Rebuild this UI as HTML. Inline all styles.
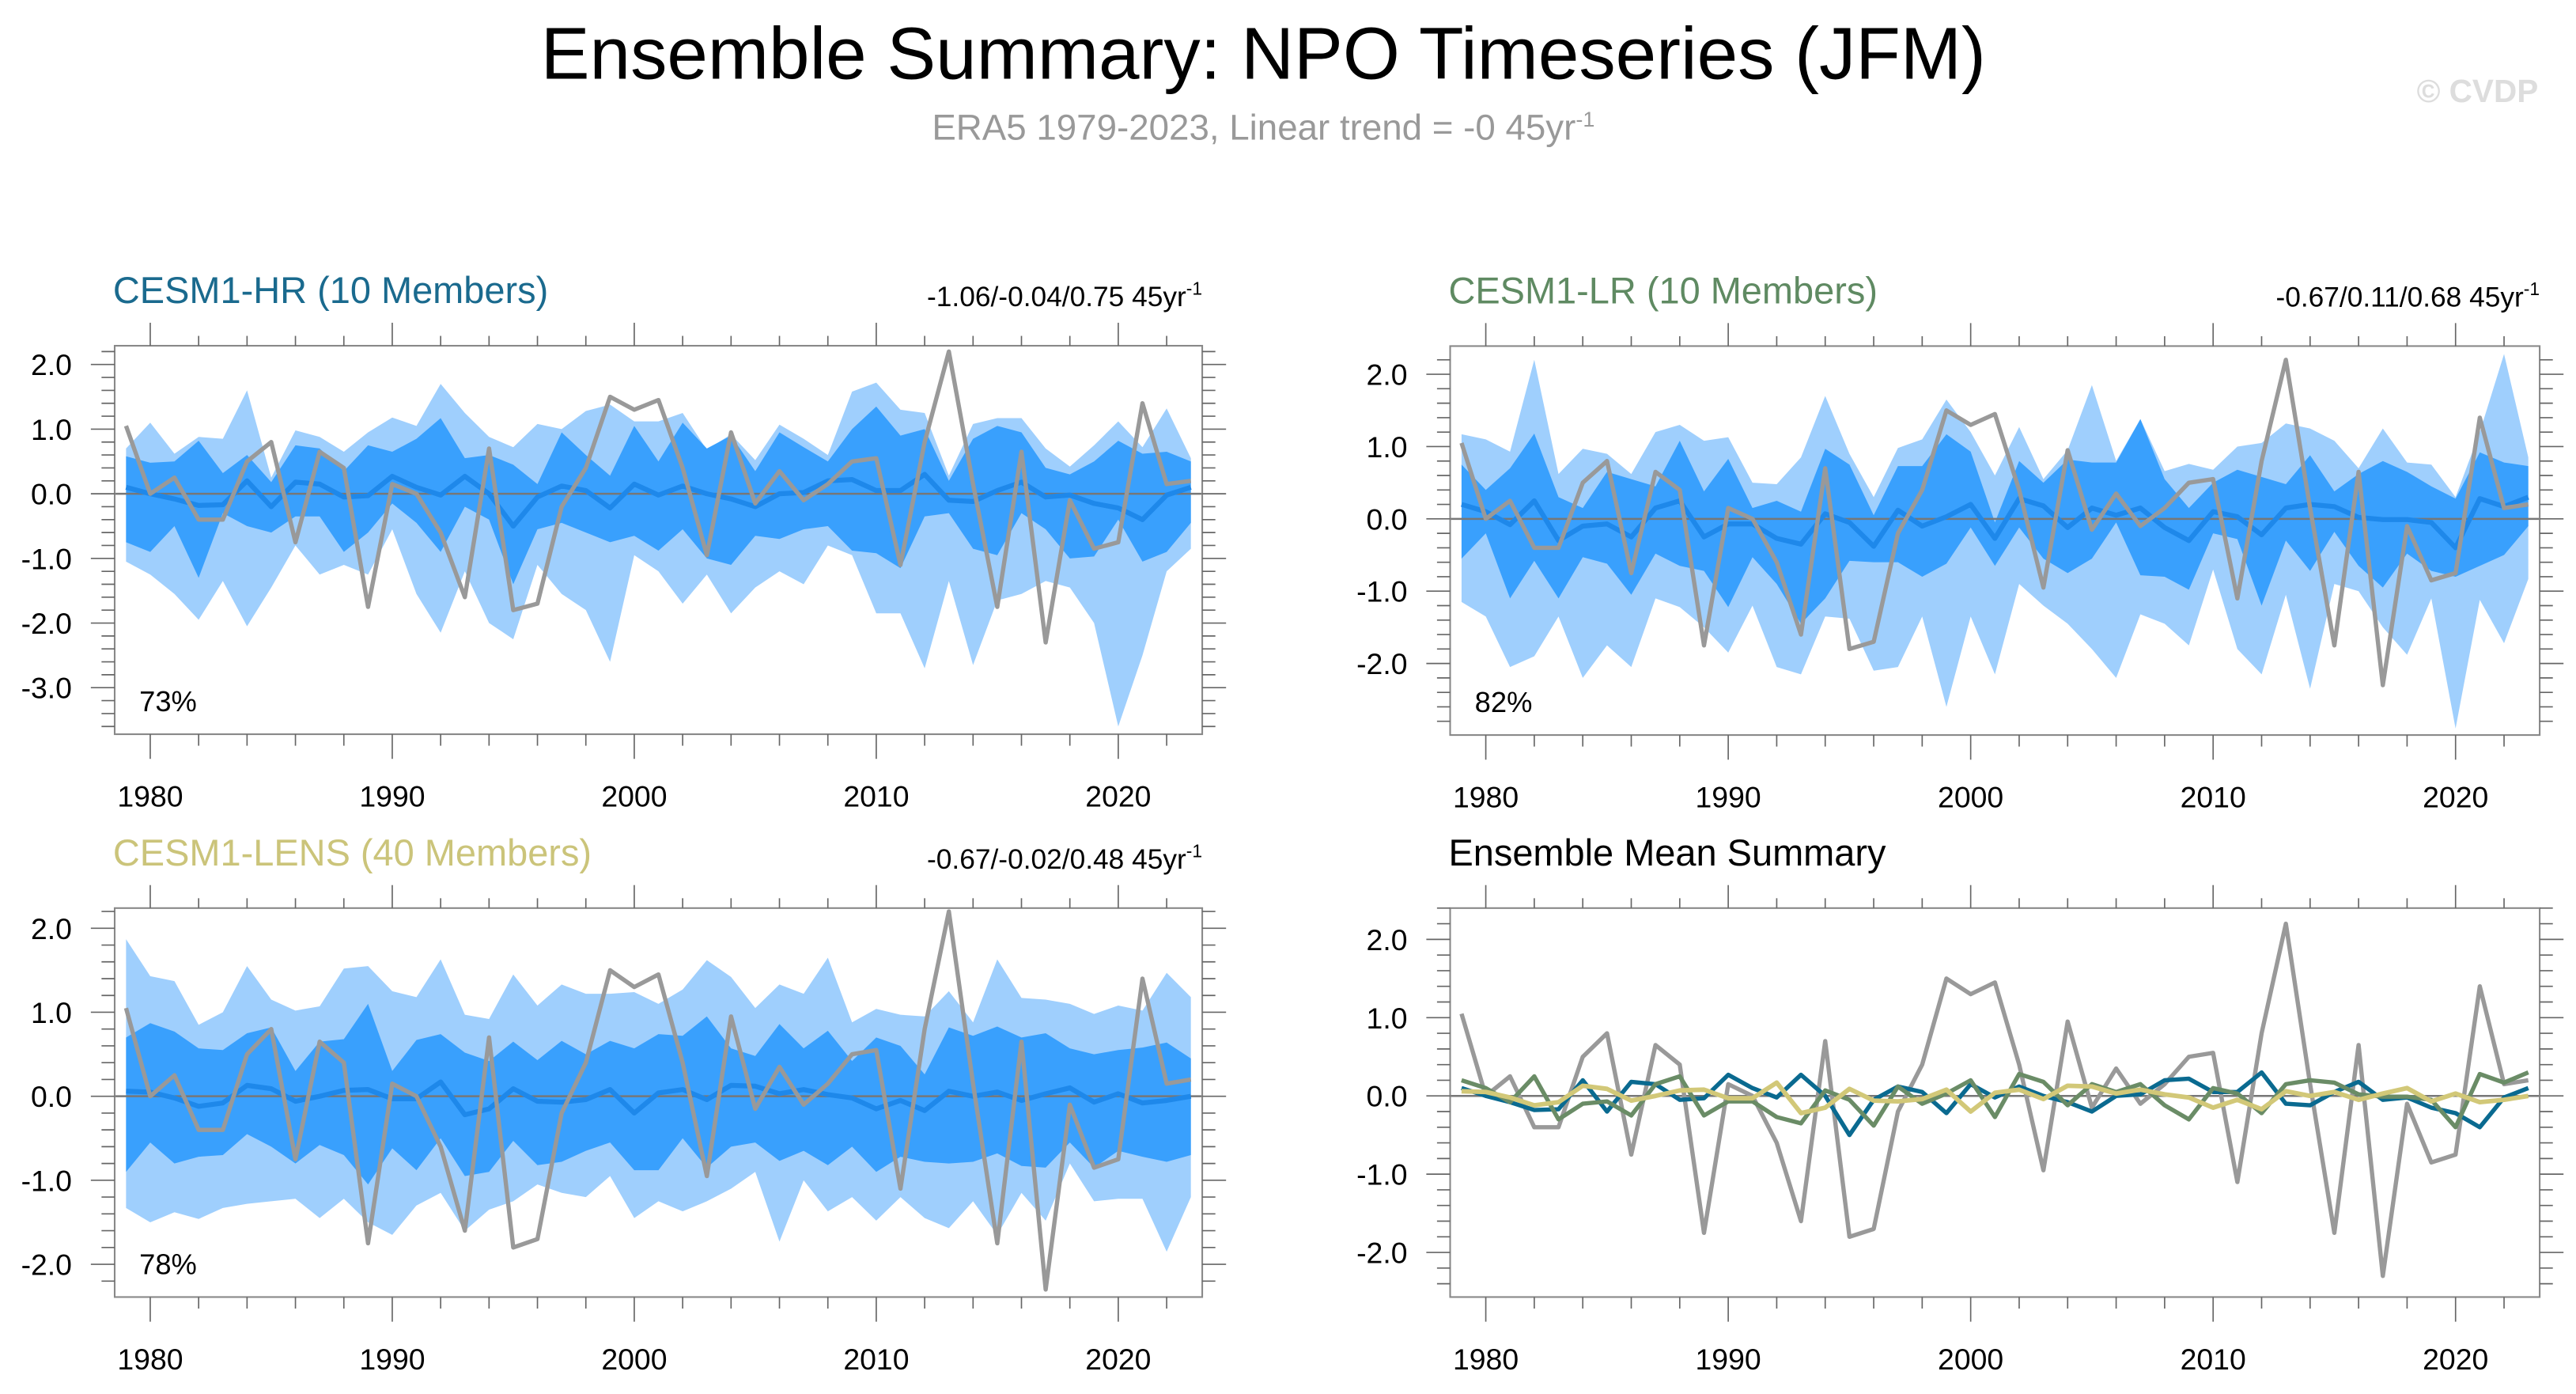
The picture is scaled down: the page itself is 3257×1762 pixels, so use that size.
<!DOCTYPE html>
<html><head><meta charset="utf-8"><style>
html,body{margin:0;padding:0;background:#fff;}
svg{display:block;}
text{font-family:"Liberation Sans",Arial,sans-serif;}
</style></head><body>
<svg id="chart" width="3257" height="1762" viewBox="0 0 1568 848.3" preserveAspectRatio="none" xmlns="http://www.w3.org/2000/svg">
<text x="769" y="48" font-size="44.6" text-anchor="middle" fill="#000">Ensemble Summary: NPO Timeseries (JFM)</text>
<text x="769" y="85" font-size="22" text-anchor="middle" fill="#999">ERA5 1979-2023, Linear trend = -0 45yr<tspan dy="-8" font-size="13">-1</tspan></text>
<text x="1545" y="62" font-size="19.5" font-weight="bold" text-anchor="end" fill="#ddd">© CVDP</text>
<g id="panels"></g>
</svg>
<script>
const years = [];
for (let y = 1979; y <= 2023; y++) years.push(y);
const era5 = [1.05,0.0,0.25,-0.4,-0.4,0.5,0.8,-0.75,0.65,0.4,-1.75,0.15,0.0,-0.6,-1.6,0.7,-1.8,-1.7,-0.2,0.4,1.5,1.3,1.45,0.4,-0.95,0.95,-0.15,0.35,-0.1,0.15,0.5,0.55,-1.1,0.8,2.2,0.15,-1.75,0.65,-2.3,-0.1,-0.85,-0.75,1.4,0.15,0.2];

const hrMax = [0.7,1.1,0.62,0.88,0.85,1.6,0.25,0.98,0.88,0.65,0.95,1.18,1.05,1.7,1.25,0.88,0.72,1.08,1.0,1.28,1.38,1.12,1.12,1.25,0.68,0.92,0.52,1.07,0.85,0.6,1.58,1.72,1.3,1.25,0.28,1.08,1.17,1.17,0.7,0.42,0.75,1.12,0.72,1.32,0.55];
const hrHi = [0.58,0.48,0.5,0.82,0.32,0.6,0.18,0.75,0.7,0.35,0.75,0.65,0.85,1.17,0.55,0.6,0.45,0.15,0.95,0.6,0.28,1.05,0.5,1.1,0.7,0.9,0.35,0.95,0.72,0.5,1.0,1.35,0.9,1.0,0.2,0.85,1.05,0.95,0.4,0.3,0.5,0.82,0.62,0.65,0.5];
const hrLo = [-0.75,-0.9,-0.5,-1.3,-0.3,-0.5,-0.6,-0.35,-0.35,-0.9,-0.6,-0.15,-0.45,-0.9,-0.2,-0.4,-1.4,-0.55,-0.45,-0.6,-0.75,-0.65,-0.88,-0.55,-1.0,-1.1,-0.65,-0.7,-0.55,-0.5,-0.88,-0.92,-1.15,-0.35,-0.3,-0.85,-0.95,-0.3,-0.55,-1.0,-0.97,-0.4,-1.05,-0.9,-0.45];
const hrMin = [-1.05,-1.25,-1.55,-1.95,-1.35,-2.05,-1.45,-0.8,-1.25,-1.1,-1.25,-0.55,-1.55,-2.15,-1.2,-2.0,-2.25,-1.1,-1.55,-1.8,-2.6,-0.95,-1.2,-1.7,-1.25,-1.85,-1.45,-1.2,-1.4,-0.8,-0.95,-1.85,-1.85,-2.7,-1.35,-2.65,-1.65,-1.55,-1.35,-1.45,-2.0,-3.6,-2.5,-1.2,-0.85];
const hrMean = [0.1,0.0,-0.08,-0.18,-0.17,0.2,-0.2,0.18,0.15,-0.05,-0.03,0.27,0.1,-0.02,0.27,0.0,-0.5,-0.05,0.12,0.05,-0.22,0.15,-0.02,0.12,0.0,-0.08,-0.2,0.0,0.02,0.2,0.22,0.05,0.05,0.3,-0.1,-0.12,0.05,0.18,-0.05,-0.02,-0.15,-0.22,-0.4,-0.02,0.1];

const lrMax = [1.17,1.1,0.93,2.2,0.62,0.97,0.9,0.62,1.2,1.3,1.08,1.13,0.5,0.48,0.85,1.7,0.9,0.3,0.98,1.1,1.65,1.2,0.6,1.27,0.55,0.95,1.85,0.8,1.38,0.66,0.76,0.68,1.0,1.05,1.32,1.25,1.08,0.7,1.25,0.78,0.75,0.3,1.2,2.28,0.85];
const lrHi = [0.75,0.4,0.7,1.18,0.3,0.15,0.65,0.55,0.45,1.08,0.38,0.83,0.15,0.25,0.1,0.97,0.75,0.05,0.73,0.73,1.17,0.93,-0.05,0.8,0.5,0.82,0.78,0.78,1.38,0.55,0.15,0.5,0.68,0.58,0.48,0.88,0.38,0.62,0.8,0.65,0.45,0.28,0.92,0.78,0.73];
const lrLo = [-0.55,-0.2,-1.1,-0.58,-1.1,-0.53,-0.62,-1.05,-0.48,-0.65,-0.72,-1.22,-0.53,-0.9,-1.45,-1.1,-0.58,-0.6,-0.6,-0.8,-0.62,-0.12,-0.65,-0.12,-0.55,-0.75,-0.55,-0.05,-0.78,-0.8,-0.98,-0.2,-0.28,-1.2,-0.3,-0.72,-0.18,-0.65,-0.95,-0.48,-0.72,-0.8,-0.65,-0.5,-0.1];
const lrMin = [-1.15,-1.35,-2.05,-1.9,-1.35,-2.2,-1.75,-2.05,-1.1,-1.22,-1.5,-1.85,-1.2,-2.05,-2.15,-1.35,-1.38,-2.1,-2.05,-1.35,-2.6,-1.35,-2.15,-0.9,-1.2,-1.45,-1.8,-2.2,-1.32,-1.45,-1.75,-0.7,-1.8,-2.15,-1.05,-2.35,-0.9,-1.0,-1.5,-1.88,-1.1,-2.9,-1.12,-1.72,-0.83];
const lrMean = [0.2,0.1,-0.08,0.25,-0.3,-0.1,-0.07,-0.25,0.15,0.25,-0.25,-0.07,-0.07,-0.27,-0.35,0.07,-0.05,-0.38,0.12,-0.1,0.03,0.2,-0.27,0.28,0.18,-0.12,0.15,0.05,0.15,-0.12,-0.3,0.1,0.03,-0.22,0.15,0.2,0.17,0.02,-0.01,-0.01,-0.05,-0.4,0.28,0.17,0.3];

const lensMax = [1.87,1.43,1.37,0.85,1.0,1.55,1.15,1.02,1.07,1.52,1.55,1.25,1.18,1.63,0.97,0.92,1.45,1.08,1.33,1.22,1.22,1.24,1.1,1.27,1.62,1.42,1.05,1.33,1.22,1.65,0.88,1.04,0.97,0.95,1.25,0.88,1.63,1.17,1.15,1.1,0.98,1.08,1.02,1.47,1.18];
const lensHi = [0.7,0.87,0.77,0.57,0.55,0.75,0.82,0.3,0.65,0.68,1.1,0.3,0.67,0.74,0.52,0.42,0.65,0.43,0.66,0.5,0.66,0.57,0.74,0.72,0.95,0.57,0.48,0.86,0.57,0.78,0.42,0.7,0.6,0.26,0.82,0.72,0.83,0.7,0.75,0.57,0.5,0.55,0.58,0.64,0.45];
const lensLo = [-0.9,-0.55,-0.8,-0.72,-0.7,-0.45,-0.6,-0.8,-0.58,-0.7,-1.05,-0.62,-0.88,-0.5,-0.95,-0.9,-0.53,-0.82,-0.78,-0.65,-0.55,-0.88,-0.88,-0.5,-0.85,-0.6,-0.55,-0.77,-0.65,-0.82,-0.6,-0.9,-0.72,-0.78,-0.8,-0.78,-0.68,-0.83,-0.85,-0.55,-0.85,-0.65,-0.72,-0.78,-0.7];
const lensMin = [-1.33,-1.5,-1.38,-1.46,-1.33,-1.28,-1.25,-1.22,-1.45,-1.22,-1.5,-1.65,-1.3,-1.15,-1.6,-1.35,-1.25,-1.05,-1.15,-1.2,-0.95,-1.45,-1.25,-1.37,-1.25,-1.1,-0.9,-1.73,-1.0,-1.37,-1.2,-1.48,-1.2,-1.45,-1.57,-1.25,-1.65,-1.15,-1.48,-0.8,-1.25,-1.22,-1.22,-1.85,-1.2];
const lensMean = [0.06,0.05,-0.02,-0.12,-0.08,0.13,0.09,-0.06,0.0,0.07,0.08,-0.03,-0.03,0.17,-0.22,-0.15,0.09,-0.06,-0.07,-0.04,0.08,-0.2,0.04,0.08,-0.04,0.13,0.12,0.03,0.08,0.02,-0.02,-0.15,-0.05,-0.17,0.06,0.0,0.05,-0.05,0.03,0.1,-0.07,0.03,-0.08,-0.05,0.0];

const yTicksTL = [2,1,0,-1,-2,-3];
const yTicksStd = [2,1,0,-1,-2];
const xTicks = [1980,1990,2000,2010,2020];

const NS = 'http://www.w3.org/2000/svg';
const root = document.getElementById('panels');
function mk(tag, attrs, parent) {
  const e = document.createElementNS(NS, tag);
  for (const k in attrs) e.setAttribute(k, attrs[k]);
  (parent || root).appendChild(e);
  return e;
}

function panel(cfg) {
  const g = mk('g', {});
  
  
  const x = yr => cfg.x0 + (yr - 1978.53) / (2023.47 - 1978.53) * (cfg.x1 - cfg.x0);
  const y = v => cfg.y0 + (cfg.top - v) / (cfg.top - cfg.bot) * (cfg.y1 - cfg.y0);
  const poly = (up, lo) => {
    let pts = years.map((yr, i) => x(yr) + ',' + y(up[i]));
    pts = pts.concat(years.map((yr, i) => x(yr) + ',' + y(lo[i])).reverse());
    return pts.join(' ');
  };
  const line = arr => years.map((yr, i) => x(yr) + ',' + y(arr[i])).join(' ');
  if (cfg.bands) {
    const b1 = mk('polygon', {points: poly(cfg.bands[0], cfg.bands[3]), fill: '#9fcffd'}, g);
    
    
    const b2 = mk('polygon', {points: poly(cfg.bands[1], cfg.bands[2]), fill: '#39a0fd'}, g);
    
    
  }
  const zl = mk('line', {x1: cfg.x0, x2: cfg.x1, y1: y(0), y2: y(0), stroke: '#777', 'stroke-width': 1.2}, g);
  
  
  cfg.lines.forEach(L => {
    const p = mk('polyline', {points: line(L.data), fill: 'none', stroke: L.color, 'stroke-width': L.w, 'stroke-linejoin': 'round'}, g);
    
    
  });
  const fr = mk('rect', {x: cfg.x0, y: cfg.y0, width: cfg.x1 - cfg.x0, height: cfg.y1 - cfg.y0, fill: 'none', stroke: '#888', 'stroke-width': 1}, g);
  
  
  for (let yr = 1980; yr <= 2022; yr += 2) {
    const major = yr % 10 === 0;
    const L = major ? 15 : 7, Lt = major ? 14 : 6;
    mk('line', {x1: x(yr), x2: x(yr), y1: cfg.y1, y2: cfg.y1 + L, stroke: '#666', 'stroke-width': 0.8}, g);
    mk('line', {x1: x(yr), x2: x(yr), y1: cfg.y0, y2: cfg.y0 - Lt, stroke: '#666', 'stroke-width': 0.8}, g);
  }
  xTicks.forEach(yr => {
    const t = mk('text', {x: x(yr), y: cfg.y1 + 44, 'font-size': 18, 'text-anchor': 'middle', fill: '#000'}, g);
    t.textContent = yr;
    
    
  });
  for (let k = Math.ceil(cfg.bot * 5); k <= Math.floor(cfg.top * 5); k++) {
    const v = k / 5;
    const major = k % 5 === 0;
    const L = major ? 14.5 : 8;
    mk('line', {x1: cfg.x0, x2: cfg.x0 - L, y1: y(v), y2: y(v), stroke: '#666', 'stroke-width': 0.8}, g);
    mk('line', {x1: cfg.x1, x2: cfg.x1 + L, y1: y(v), y2: y(v), stroke: '#666', 'stroke-width': 0.8}, g);
  }
  cfg.yTicks.forEach(v => {
    const t = mk('text', {x: cfg.x0 - 26, y: y(v) + 6.5, 'font-size': 18, 'text-anchor': 'end', fill: '#000'}, g);
    t.textContent = v.toFixed(1);
    
    
  });
  const tt = mk('text', {x: cfg.x0 - 1, y: cfg.y0 - 26, 'font-size': 22.6, fill: cfg.titleColor}, g);
  tt.textContent = cfg.title;
  
  
  if (cfg.trend) {
    const tr = mk('text', {x: cfg.x1, y: cfg.y0 - 24, 'font-size': 17, 'text-anchor': 'end', fill: '#000'}, g);
    tr.innerHTML = cfg.trend + '<tspan dy="-7" font-size="11">-1</tspan>';
    
    
  }
  if (cfg.pct) {
    const pc = mk('text', {x: cfg.x0 + 15, y: cfg.y1 - 14, 'font-size': 17.5, fill: '#000'}, g);
    pc.textContent = cfg.pct;
    
    
  }
}

const ERA = {data: era5, color: '#999', w: 2.6, name: 'era5-line'};
panel({name: 'panel-cesm1-hr', x0: 69.8, x1: 731.8, y0: 210.4, y1: 446.8, top: 2.29, bot: -3.72,
  bands: [hrMax, hrHi, hrLo, hrMin], lines: [{data: hrMean, color: '#1e88ea', w: 3, name: 'ensemble-mean-line'}, ERA],
  yTicks: yTicksTL, title: 'CESM1-HR (10 Members)', titleColor: '#1a6a8e', trend: '-1.06/-0.04/0.75 45yr', pct: '73%'});
panel({name: 'panel-cesm1-lr', x0: 882.7, x1: 1545.9, y0: 210.6, y1: 447.3, top: 2.39, bot: -2.99,
  bands: [lrMax, lrHi, lrLo, lrMin], lines: [{data: lrMean, color: '#1e88ea', w: 3, name: 'ensemble-mean-line'}, ERA],
  yTicks: yTicksStd, title: 'CESM1-LR (10 Members)', titleColor: '#5f8a62', trend: '-0.67/0.11/0.68 45yr', pct: '82%'});
panel({name: 'panel-cesm1-lens', x0: 69.8, x1: 731.8, y0: 552.6, y1: 789.3, top: 2.24, bot: -2.39,
  bands: [lensMax, lensHi, lensLo, lensMin], lines: [{data: lensMean, color: '#1e88ea', w: 3, name: 'ensemble-mean-line'}, ERA],
  yTicks: yTicksStd, title: 'CESM1-LENS (40 Members)', titleColor: '#cbc47a', trend: '-0.67/-0.02/0.48 45yr', pct: '78%'});
panel({name: 'panel-ensemble-mean-summary', x0: 882.7, x1: 1545.9, y0: 552.6, y1: 789.3, top: 2.40, bot: -2.57,
  bands: null, lines: [ERA, {data: hrMean, color: '#0a6a90', w: 2.6, name: 'hr-mean-line'},
    {data: lrMean, color: '#6a8c66', w: 2.6, name: 'lr-mean-line'}, {data: lensMean, color: '#d2c878', w: 2.8, name: 'lens-mean-line'}],
  yTicks: yTicksStd, title: 'Ensemble Mean Summary', titleColor: '#000'});
</script>
</body></html>
